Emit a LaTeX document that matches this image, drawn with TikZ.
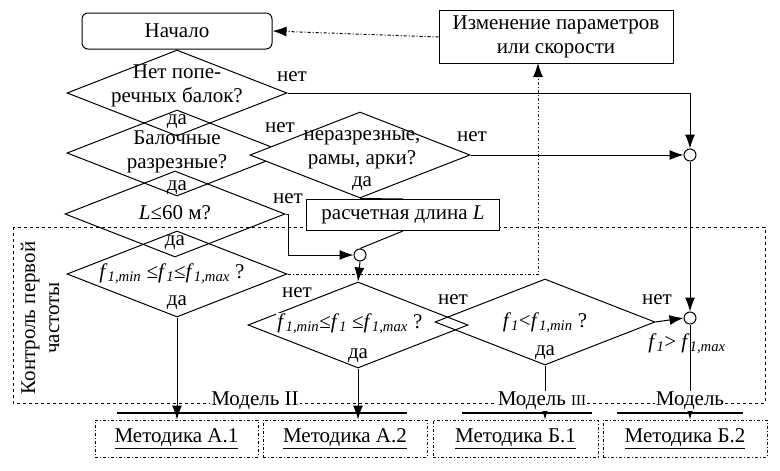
\documentclass[tikz,border=0pt]{standalone}
\usepackage{fontspec}
\setmainfont{Liberation Serif}
\usetikzlibrary{shapes.geometric,arrows.meta}
\newcommand{\fsub}[1]{\textit{f}\textsubscript{\textit{#1}}}
\begin{document}
\begin{tikzpicture}[x=1pt,y=-1pt,line width=1pt,
  font=\fontsize{21}{24}\selectfont,
  dia/.style={draw,diamond,minimum width=220pt,minimum height=86pt,inner sep=0pt,aspect=2.55},
  arr/.style={-{Latex[length=14pt,width=10pt]}},
  junc/.style={draw,circle,fill=white,minimum size=12pt,inner sep=0pt},
  dd/.style={dash dot},
  mbox/.style={draw,dash dot,minimum height=37pt,inner sep=0pt},
  lbl/.style={inner sep=1pt}]
\useasboundingbox (0,0) rectangle (780,471);
% dashed frame
\draw[dashed] (13,227) rectangle (765,403);
% top
\node[draw,rounded corners=6pt,minimum width=190pt,minimum height=36pt] (start) at (177,31) {Начало};
\node[draw,minimum width=234pt,minimum height=53pt,align=center,fill=white] (chg) at (556,37) {Изменение параметров\\или скорости};
\draw[dd,arr] (chg.west) -- (start.east);
% diamonds
\node[dia] (d1) at (177,93) {};
\node[dia] (d2) at (177,153) {};
\node[dia] (d3) at (175,214) {};
\node[dia] (d4) at (177,274) {};
\node[dia,fill=white] (d5) at (360,155) {};
\node[dia] (d6) at (358,325) {};
\node[dia] (d7) at (545,322) {};
\node[align=center,lbl] (t1) at (177,86) {Нет попе-\\речных балок?};
\node[lbl] (y1) at (177,122) {да};
\node[align=center,lbl] (t2) at (177,152) {Балочные\\разрезные?};
\node[lbl] (y2) at (177,188) {да};
\node[lbl] (t3) at (175,213) {\textit{L}≤60 м?};
\node[lbl] (y3) at (175,243) {да};
\node[lbl] (t4) at (172,274) {\fsub{1,min} ≤\fsub{1}≤\fsub{1,max} ?};
\node[lbl] (y4) at (177,303) {да};
\node[align=center,lbl] (t5) at (362,150) {неразрезные,\\рамы, арки?};
\node[lbl] (y5) at (362,184) {да};
\node[lbl,fill=white] (t6) at (350,324) {\fsub{1,min}≤\fsub{1} ≤\fsub{1,max} ?};
\node[lbl] (y6) at (358,356) {да};
\node[lbl] (t7) at (545,323) {\fsub{1}<\fsub{1,min} ?};
\node[lbl] (y7) at (545,353) {да};
\node[lbl] (n1) at (292,77) {нет};
\node[lbl] (n2) at (280,128) {нет};
\node[lbl] (n5) at (472,137) {нет};
\node[lbl] (n3) at (288,199) {нет};
\node[lbl] (n6) at (297,293) {нет};
\node[lbl] (n7a) at (453,300) {нет};
\node[lbl] (n7b) at (657,300) {нет};
% length box
\node[draw,fill=white,minimum width=193pt,minimum height=31pt] (len) at (403,215) {расчетная длина \textit{L}};
% junctions
\node[junc] (c1) at (690,155) {};
\node[junc] (c2) at (360,255) {};
\node[junc] (c3) at (690,318) {};
\node[lbl] (gt) at (687,344) {\fsub{1}> \fsub{1,max}};
% connectors
\draw[arr] (d1.east) -| (c1.north);
\draw[arr] (d5.east) -- (c1.west);
\draw[arr] (c1.south) -- (c3.north);
\draw (d5.south) -- (len.north);
\draw (len.south) -- (c2.north);
\draw[arr] (d3.east) -| ++(3,0) |- (c2.west);
\draw[arr] (c2.south) -- (d6.north);
\draw[arr] (d7.east) -- (c3.west);
\draw[dd,arr] (d4.east) -- (538,274) -- (538,63);
% bottom boxes
\node[mbox,minimum width=163pt] (m1) at (176.5,438.5) {\underline{Методика А.1}};
\node[mbox,minimum width=164pt] (m2) at (345,438.5) {\underline{Методика А.2}};
\node[mbox,minimum width=165pt] (m3) at (515.5,438.5) {\underline{Методика Б.1}};
\node[mbox,minimum width=164pt] (m4) at (685,438.5) {\underline{Методика Б.2}};
\draw[arr] (d4.south) -- (m1.north -| d4.south);
\draw[arr] (d6.south) -- (m2.north -| d6.south);
\draw[arr] (d7.south) -- (m3.north -| d7.south);
\draw[arr] (c3.south) -- (m4.north -| c3.south);
\draw[line width=1.4pt] (117,413) -- (407,413) (462,413) -- (592,413) (617,413) -- (743,413);
\node[lbl,fill=white] (mod2) at (255,401) {Модель II};
\node[lbl,fill=white] (mod3) at (542,401) {Модель {\fontsize{15}{17}\selectfont III}};
\node[lbl,fill=white] (mod) at (690,401) {Модель};
\node[rotate=90,align=center] (ctl) at (40,318) {Контроль первой\\частоты};
\end{tikzpicture}
\end{document}
